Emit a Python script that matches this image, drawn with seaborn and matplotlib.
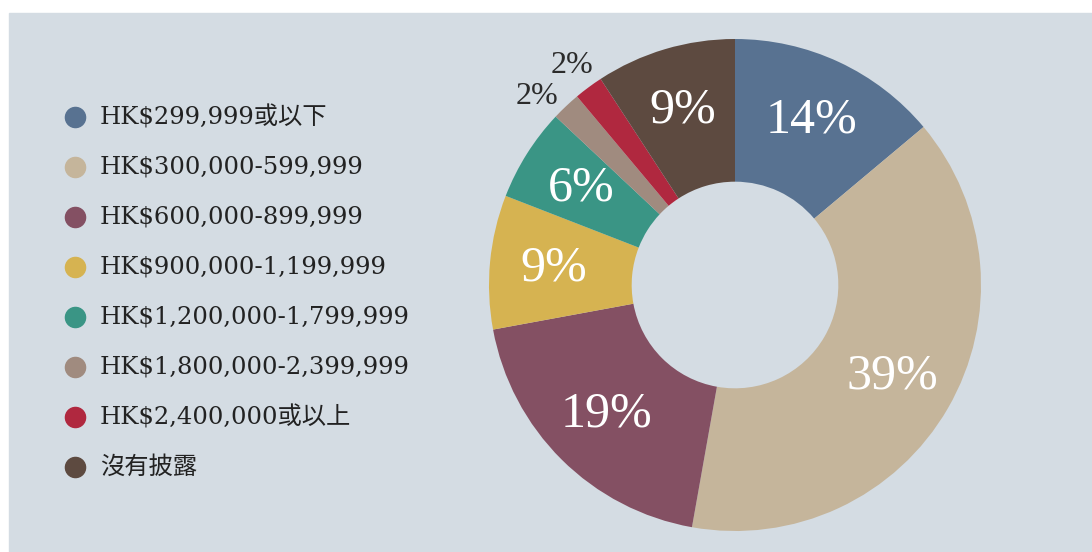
import matplotlib.pyplot as plt
import seaborn as sns
from matplotlib.lines import Line2D
from matplotlib.patches import Rectangle
import numpy as np

# data (shares in %)
labels = ["HK$299,999或以下", "HK$300,000-599,999", "HK$600,000-899,999",
          "HK$900,000-1,199,999", "HK$1,200,000-1,799,999", "HK$1,800,000-2,399,999",
          "HK$2,400,000或以上", "沒有披露"]
shares = [13.9, 38.9, 19.3, 8.8, 6.1, 1.9, 1.9, 9.2]
pct_text = ["14%", "39%", "19%", "9%", "6%", "2%", "2%", "9%"]
colors = ["#587291", "#c5b59b", "#845063", "#d6b351",
          "#3a9585", "#a08b7f", "#b0283f", "#5d4a40"]

sns.set_theme(style="white")
plt.rcParams['font.family'] = ['DejaVu Serif', 'Noto Sans CJK TC']

W, H = 1092, 552
fig = plt.figure(figsize=(W / 100, H / 100), dpi=100, facecolor="white")
bg = "#d4dce3"
fig.patches.append(Rectangle((9 / W, 0), 1 - 9 / W, 1 - 13 / H,
                             transform=fig.transFigure, color=bg, zorder=-1))

# donut
ax = fig.add_axes([489 / W, (H - 531) / H, 492 / W, 492 / H])
ax.set_facecolor("none")
ax.axis("off")
wedges, _ = ax.pie(shares, colors=colors, startangle=90, counterclock=False,
                   radius=1, wedgeprops=dict(width=0.58, edgecolor="none"))
ax.set_xlim(-1, 1)
ax.set_ylim(-1, 1)

# small slices get their label outside, nudged apart so they don't collide
small_nudge = [3, 0]
k = 0
for w, t, s in zip(wedges, pct_text, shares):
    mid = (w.theta1 + w.theta2) / 2
    if s < 3:
        mid += small_nudge[k]
        k += 1
        r, col, size = 1.11, "#2b2b2b", 23
    else:
        r, col, size = 0.74, "white", 36
    a = np.deg2rad(mid)
    ax.text(r * np.cos(a), r * np.sin(a), t, ha="center", va="center",
            color=col, fontsize=size, family=["Liberation Serif"])

# legend on the left
for i, (lab, col) in enumerate(zip(labels, colors)):
    y = 1 - (117 + i * 50) / H
    fig.add_artist(Line2D([75 / W], [y], marker="o", markersize=14.5,
                          color=col, linestyle="none", transform=fig.transFigure))
    fig.text(100 / W, y, lab, ha="left", va="center", fontsize=17.5, color="#222222")

fig.savefig("out.png", dpi=100, facecolor=fig.get_facecolor())
